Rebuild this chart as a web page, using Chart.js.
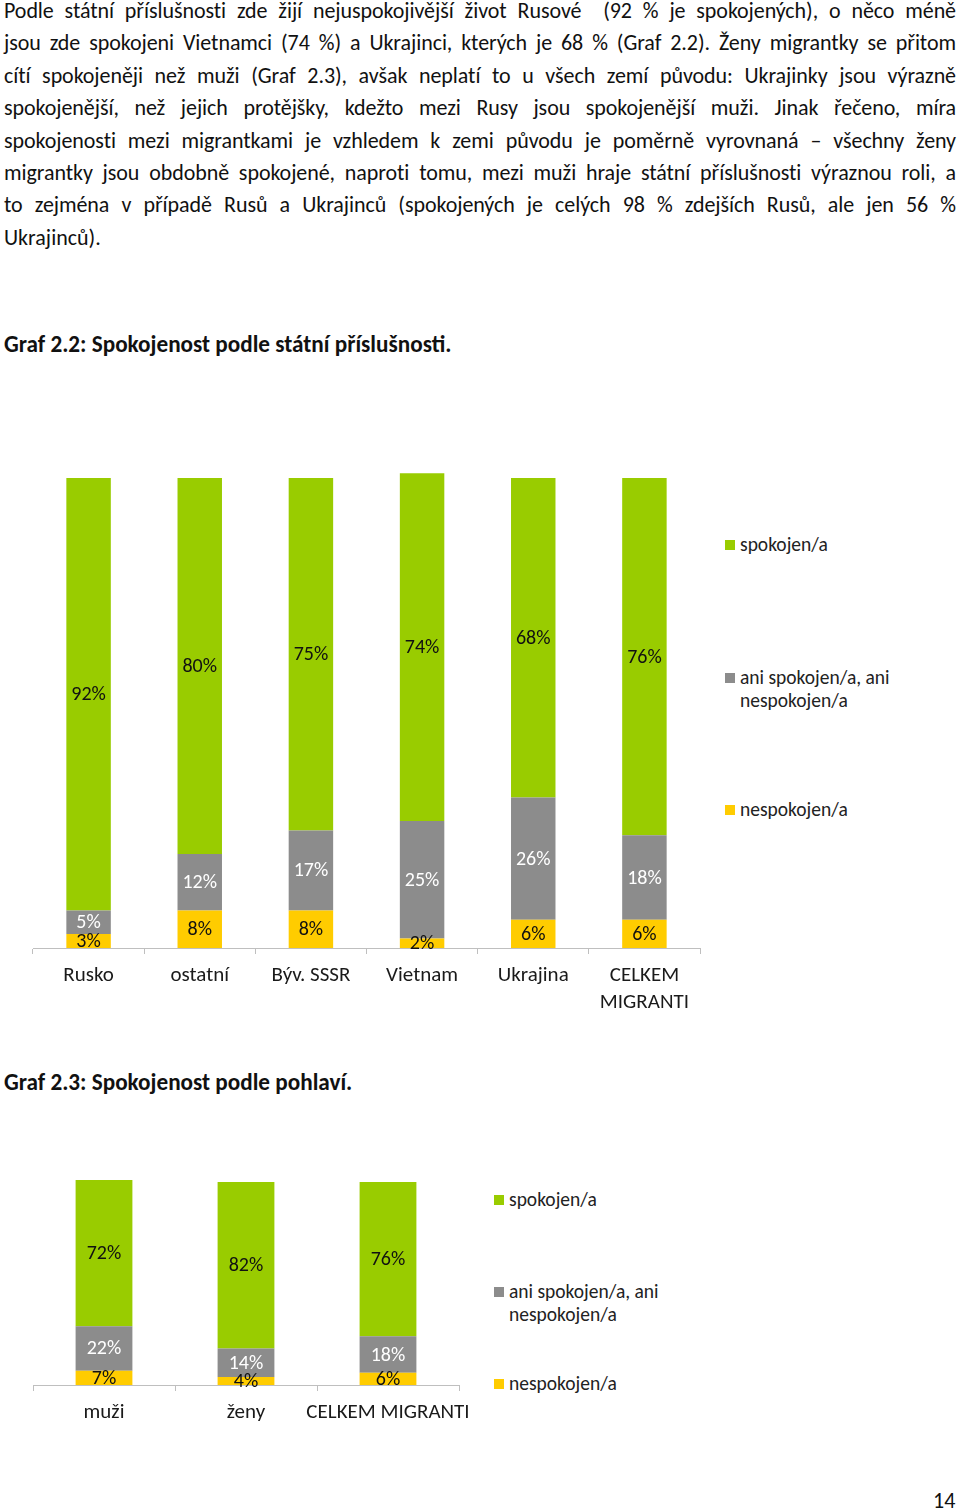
<!DOCTYPE html>
<html lang="cs">
<head>
<meta charset="utf-8">
<script src="https://cdn.jsdelivr.net/npm/chart.js@4.4.1/dist/chart.umd.min.js"></script>
<style>
  html, body { margin:0; padding:0; background:#fff; }
  body { width:960px; height:1509px; position:relative; overflow:hidden;
         font-family: Carlito, Calibri, Lato, "Open Sans", sans-serif; color:#111; }
  #para { position:absolute; left:4px; top:-5px; width:952px; font-size:22px; line-height:32.4px; }
  #para .ln { white-space:nowrap; text-align:justify; text-align-last:justify; overflow:visible; }
  #para .ln.last { text-align-last:left; }
  .title { position:absolute; left:4px; font-size:23.2px; font-weight:bold; line-height:24px; }
  canvas { position:absolute; }
  .leg { position:absolute; font-size:19.5px; line-height:23px; color:#222; }
  .leg .sq { position:absolute; left:-15px; top:7px; width:10px; height:10px; }
  #pg { position:absolute; left:933px; top:1487px; font-size:22px; }
</style>
</head>
<body>
<div id="para">
  <div class="ln">Podle státní příslušnosti zde žijí nejuspokojivější život Rusové&nbsp; (92 % je spokojených), o něco méně</div>
  <div class="ln">jsou zde spokojeni Vietnamci (74 %) a Ukrajinci, kterých je 68 % (Graf 2.2). Ženy migrantky se přitom</div>
  <div class="ln">cítí spokojeněji než muži (Graf 2.3), avšak neplatí to u všech zemí původu: Ukrajinky jsou výrazně</div>
  <div class="ln">spokojenější, než jejich protějšky, kdežto mezi Rusy jsou spokojenější muži. Jinak řečeno, míra</div>
  <div class="ln">spokojenosti mezi migrantkami je vzhledem k zemi původu je poměrně vyrovnaná – všechny ženy</div>
  <div class="ln">migrantky jsou obdobně spokojené, naproti tomu, mezi muži hraje státní příslušnosti výraznou roli, a</div>
  <div class="ln">to zejména v případě Rusů a Ukrajinců (spokojených je celých 98 % zdejších Rusů, ale jen 56 %</div>
  <div class="ln last">Ukrajinců).</div>
</div>

<div class="title" style="top:332px;">Graf 2.2: Spokojenost podle státní příslušnosti.</div>
<canvas id="c1" width="690" height="580" style="left:23px; top:440px;"></canvas>
<div class="leg" style="left:740px; top:533px;"><span class="sq" style="background:#99CC00"></span>spokojen/a</div>
<div class="leg" style="left:740px; top:666px;"><span class="sq" style="background:#8C8C8C"></span>ani spokojen/a, ani<br>nespokojen/a</div>
<div class="leg" style="left:740px; top:798px;"><span class="sq" style="background:#FFCC00"></span>nespokojen/a</div>

<div class="title" style="top:1070px;">Graf 2.3: Spokojenost podle pohlaví.</div>
<canvas id="c2" width="446" height="285" style="left:23px; top:1150px;"></canvas>
<div class="leg" style="left:509px; top:1188px;"><span class="sq" style="background:#99CC00"></span>spokojen/a</div>
<div class="leg" style="left:509px; top:1280px;"><span class="sq" style="background:#8C8C8C"></span>ani spokojen/a, ani<br>nespokojen/a</div>
<div class="leg" style="left:509px; top:1372px;"><span class="sq" style="background:#FFCC00"></span>nespokojen/a</div>

<div id="pg">14</div>

<script>
// ---- Data: Graf 2.2 ----
const categories1 = ['Rusko', 'ostatní', 'Býv. SSSR', 'Vietnam', 'Ukrajina', ['CELKEM', 'MIGRANTI']];
const spokojen1   = [92, 80, 75, 74, 68, 76];
const ani1        = [5, 12, 17, 25, 26, 18];
const nespokojen1 = [3, 8, 8, 2, 6, 6];

// ---- Data: Graf 2.3 ----
const categories2 = ['muži', 'ženy', 'CELKEM MIGRANTI'];
const spokojen2   = [72, 82, 76];
const ani2        = [22, 14, 18];
const nespokojen2 = [7, 4, 6];

const seriesNames = ['nespokojen/a', 'ani spokojen/a, ani nespokojen/a', 'spokojen/a'];
const COLORS = ['#FFCC00', '#8C8C8C', '#99CC00'];
const LABEL_COLORS = ['#111111', '#ffffff', '#111111'];
const FONT = 'Carlito, Calibri, Lato, "Open Sans", sans-serif';

// fit paragraph lines to width
document.querySelectorAll('#para .ln').forEach(el => {
  const span = document.createElement('span');
  span.innerHTML = el.innerHTML; span.style.whiteSpace = 'nowrap';
  el.innerHTML = ''; el.appendChild(span);
  const w = span.getBoundingClientRect().width;
  let ls = '';
  if (w > 950) {
    const n = span.textContent.length;
    ls = ((950 - w) / n - 0.05) + 'px';
  }
  el.innerHTML = span.innerHTML;
  el.style.letterSpacing = ls;
});

const labelPlugin = {
  id: 'segLabels',
  afterDatasetsDraw(chart) {
    const ctx = chart.ctx;
    ctx.save();
    ctx.font = '20px ' + FONT;
    ctx.textAlign = 'center';
    ctx.textBaseline = 'middle';
    chart.data.datasets.forEach((ds, di) => {
      const meta = chart.getDatasetMeta(di);
      meta.data.forEach((bar, i) => {
        const p = bar.getProps(['x', 'y', 'base'], true);
        ctx.fillStyle = LABEL_COLORS[di];
        ctx.fillText(ds.data[i] + '%', p.x, (p.y + p.base) / 2 + 1);
      });
    });
    ctx.restore();
  }
};

function makeChart(id, cats, vals, pad, axisH) {
  return new Chart(document.getElementById(id), {
    type: 'bar',
    data: {
      labels: cats,
      datasets: vals.map((v, i) => ({
        label: seriesNames[i], data: v, backgroundColor: COLORS[i],
        borderWidth: 0, barPercentage: 0.4, categoryPercentage: 1
      }))
    },
    options: {
      responsive: false, animation: false, devicePixelRatio: 1,
      layout: { padding: pad },
      plugins: { legend: { display: false }, tooltip: { enabled: false } },
      scales: {
        x: {
          stacked: true,
          grid: { display: true, drawOnChartArea: false, drawTicks: true, tickLength: 6, color: '#BFBFBF', offset: true },
          border: { display: true, color: '#BFBFBF', width: 1 },
          ticks: { color: '#1a1a1a', font: { family: FONT, size: 21, lineHeight: 1.25 }, padding: 9, maxRotation: 0, autoSkip: false },
          afterFit: s => { s.height = axisH; s.paddingLeft = 0; s.paddingRight = 0; }
        },
        y: { stacked: true, display: false, min: 0, max: 102 }
      }
    },
    plugins: [labelPlugin]
  });
}

makeChart('c1', categories1, [nespokojen1, ani1, spokojen1], { left: 10, right: 13, top: 28.6, bottom: 0 }, 72);
makeChart('c2', categories2, [nespokojen2, ani2, spokojen2], { left: 10, right: 10, top: 28, bottom: 0 }, 50);
</script>
</body>
</html>
